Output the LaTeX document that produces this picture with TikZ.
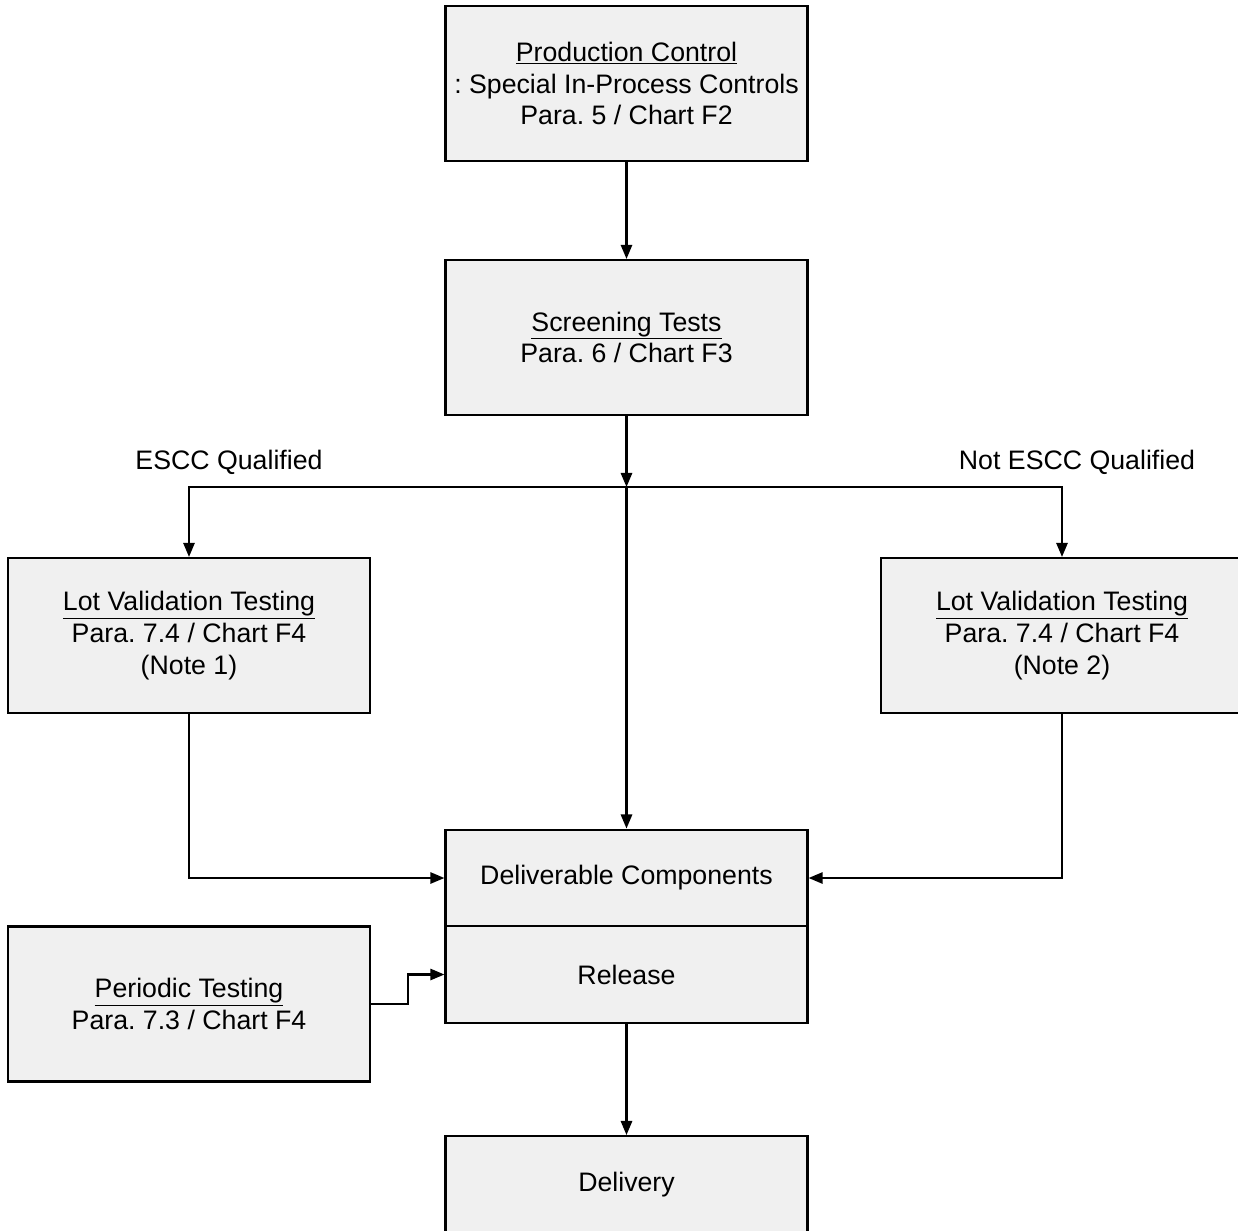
\documentclass[tikz,border=0pt]{standalone}
\usepackage{fontspec}
\setmainfont{Liberation Sans}
\frenchspacing
\usetikzlibrary{arrows.meta}
\definecolor{boxgray}{HTML}{F0F0F0}
\tikzset{
  flowbox/.style={draw, fill=boxgray, line width=1.5pt, align=center, inner sep=0pt,
    minimum width=9.05cm, minimum height=3.875cm, font=\fontsize{19pt}{22.5pt}\selectfont},
  flatbox/.style={flowbox, minimum height=2.42cm},
  branchlabel/.style={font=\fontsize{19pt}{22.5pt}\selectfont},
  flowarrow/.style={line width=1.5pt, -{Triangle[length=10pt,width=8pt]}}
}
\begin{document}
\begin{tikzpicture}[x=0.025cm,y=-0.025cm]
            \useasboundingbox (0,0) rectangle (1238,1231);

            % Main column
            \node[flowbox] (prod) at (626.5,83.5) {\underline{Production Control}\\: Special In-Process Controls\\Para. 5 / Chart F2};
            \node[flowbox] (screen) at (626.5,337.5) {\underline{Screening Tests}\\Para. 6 / Chart F3};
            \node[flatbox] (deliv) at (626.5,878) {Deliverable Components};
            \node[flatbox] (release) at (626.5,974.5) {Release};
            \node[flatbox] (delivery) at (626.5,1184.5) {Delivery};

            % Side boxes
            \node[flowbox] (lvtq) at (189,635.5) {\underline{Lot Validation Testing}\\Para. 7.4 / Chart F4\\(Note 1)};
            \node[flowbox] (lvtn) at (1062,635.5) {\underline{Lot Validation Testing}\\Para. 7.4 / Chart F4\\(Note 2)};
            \node[flowbox] (periodic) at (189,1004) {\underline{Periodic Testing}\\Para. 7.3 / Chart F4};

            % Branch labels
            \node[branchlabel] (qual) at (229,462) {ESCC Qualified};
            \node[branchlabel] (notqual) at (1077,462) {Not ESCC Qualified};

            % Connectors
            \coordinate (split) at (626.5,487);
            \draw[flowarrow] (prod.south) -- (screen.north);
            \draw[flowarrow] (screen.south) -- (split);
            \draw[flowarrow] (split) -| (lvtq.north);
            \draw[flowarrow] (split) -| (lvtn.north);
            \draw[flowarrow] (split) -- (deliv.north);
            \draw[flowarrow] (lvtq.south) |- (deliv.west);
            \draw[flowarrow] (lvtn.south) |- (deliv.east);
            \draw[flowarrow] (periodic.east) -- ++(37,0) |- (release.west);
            \draw[flowarrow] (release.south) -- (delivery.north);
        \end{tikzpicture}
\end{document}
